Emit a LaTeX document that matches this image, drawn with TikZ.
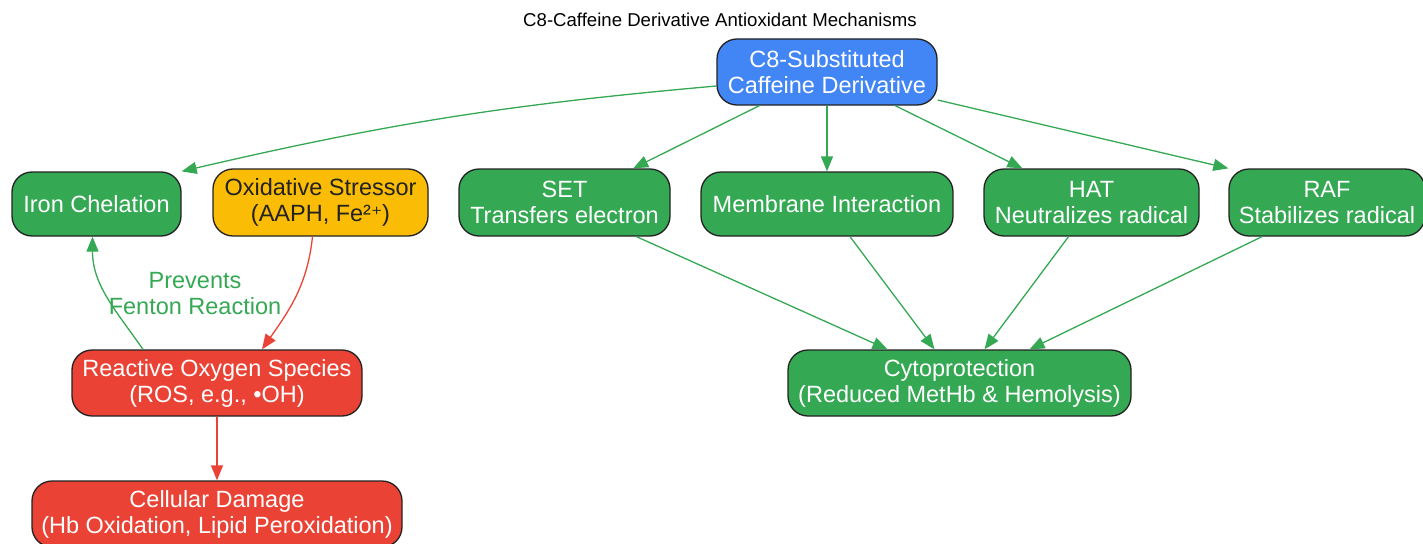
\documentclass[tikz,border=0pt]{standalone}
\usepackage{fontspec}
\setmainfont{Liberation Sans}
\newfontfamily\dv{DejaVu Sans}[Scale=0.9]
\usetikzlibrary{arrows.meta}
\definecolor{gg}{HTML}{34A853}
\definecolor{bb}{HTML}{4285F4}
\definecolor{rr}{HTML}{EA4335}
\definecolor{yy}{HTML}{FBBC05}
\definecolor{bd}{HTML}{222222}
\begin{document}
\begin{tikzpicture}[x=1pt,y=-1pt,
  box/.style={draw=bd, line width=1.3pt, rounded corners=20pt, align=center, inner sep=2pt,
     font=\fontsize{23.5}{26}\selectfont, text=white, minimum height=66pt},
  gbox/.style={box, fill=gg},
  rbox/.style={box, fill=rr},
  garr/.style={draw=gg, line width=1.3pt, -{Triangle[length=15pt,width=12pt]}},
  rarr/.style={draw=rr, line width=1.3pt, -{Triangle[length=15pt,width=12pt]}}]
\useasboundingbox (0,0) rectangle (1423,543);
\begin{scope}
\clip (0,0) rectangle (1423,543);
\node[font=\fontsize{18.6}{22}\selectfont] (title) at (720,20) {C8-Caffeine Derivative Antioxidant Mechanisms};
\node[box, fill=bb, minimum width=220pt] (c8) at (827,72) {C8-Substituted\\Caffeine Derivative};
\node[gbox, minimum width=169pt, minimum height=64pt] (iron) at (96.5,204) {Iron Chelation};
\node[box, fill=yy, text=bd, minimum width=215pt, minimum height=67pt] (ox) at (320.5,202.5) {Oxidative Stressor\\(AAPH, Fe²{\dv ⁺})};
\node[gbox, minimum width=211pt, minimum height=67pt] (set) at (564.5,202.5) {SET\\Transfers electron};
\node[gbox, minimum width=252pt, minimum height=64pt] (mem) at (827,204) {Membrane Interaction};
\node[gbox, minimum width=215pt, minimum height=67pt] (hat) at (1091.5,202.5) {HAT\\Neutralizes radical};
\node[gbox, minimum width=196pt, minimum height=67pt] (raf) at (1327,202.5) {RAF\\Stabilizes radical};
\node[rbox, minimum width=290pt] (ros) at (217,383) {Reactive Oxygen Species\\(ROS, e.g., •OH)};
\node[rbox, minimum width=370pt] (cell) at (217,514) {Cellular Damage\\(Hb Oxidation, Lipid Peroxidation)};
\node[gbox, minimum width=343pt] (cyto) at (959.5,383) {Cytoprotection\\(Reduced MetHb \& Hemolysis)};

\draw[garr] (c8.west |- 0,86) to[bend right=4] (iron.north east);
\draw[garr] (c8) -- (set);
\draw[garr] (c8) -- (mem);
\draw[garr] (c8) -- (hat);
\draw[garr] (c8.east |- 0,100) -- (raf.north west);
\draw[rarr] ([xshift=-8pt]ox.south) to[out=-96,in=55] ([xshift=45pt]ros.north);
\draw[garr] ([xshift=-74pt]ros.north) to[out=125,in=-90] ([xshift=-4pt]iron.south);
\node[text=gg, align=center, font=\fontsize{23.5}{26}\selectfont] (lbl) at (195,294) {Prevents\\Fenton Reaction};
\draw[rarr] (ros) -- (cell);
\draw[garr] ([xshift=72pt]set.south) -- ([xshift=-72pt]cyto.north);
\draw[garr] ([xshift=23pt]mem.south) -- ([xshift=-25pt]cyto.north);
\draw[garr] ([xshift=-23pt]hat.south) -- ([xshift=25pt]cyto.north);
\draw[garr] ([xshift=-65pt]raf.south) -- ([xshift=70pt]cyto.north);
\end{scope}
\end{tikzpicture}
\end{document}
